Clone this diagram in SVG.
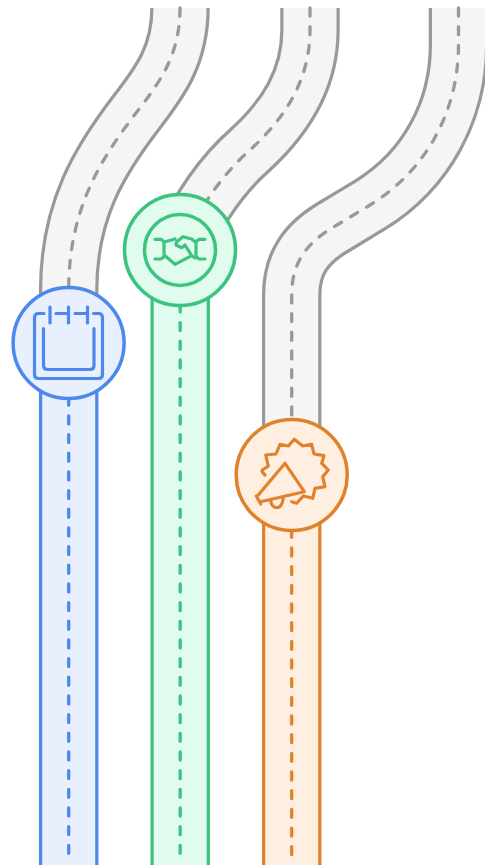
<svg xmlns="http://www.w3.org/2000/svg" width="485" height="865" viewBox="0 0 485 865">
<style>
.edge,.bed,.dash,.ic{fill:none}
.edge{stroke-width:59.5}
.bed{stroke-width:53}
.dash{stroke-width:3.3;stroke-linecap:round;stroke-dasharray:8 10.67}
.ic{stroke-width:3.2;stroke-linecap:round;stroke-linejoin:round}
.grey .edge{stroke:#999}.grey .bed{stroke:#f5f5f5}.grey .dash{stroke:#999}
.blue .edge,.blue .dash,.blue .ic,.blue circle{stroke:#4d88ec}.blue .bed,.blue circle{fill:#e8effd}.blue .bed{stroke:#e8effd}
.green .edge,.green .dash,.green .ic,.green circle{stroke:#3cc380}.green circle{fill:#e0fcee}.green .bed{stroke:#e0fcee}
.orange .edge,.orange .dash,.orange .ic,.orange circle{stroke:#e0822c}.orange circle{fill:#ffefe0}.orange .bed{stroke:#ffefe0}
circle{stroke-width:3.5}
</style>
<defs>
<path id="r1" d="M180 8C180 55 160 82 136 113C100 160 68.7 210 68.7 290V343"/>
<path id="r2" d="M310 8V30C310 80 285 118 250 150C225 172 200 205 180 250"/>
<path id="r3" d="M458.5 8V45C458.5 110 427 170 370 205L337 225C307 242 291.7 262 291.7 295V475"/>
<path id="c1" d="M68.7 343V865"/>
<path id="c2" d="M180.2 250V865"/>
<path id="c3" d="M291.7 475V865"/>
</defs>
<g id="connectors">
<g class="grey">
<use href="#r1" class="edge"/><use href="#r1" class="bed"/><use href="#r1" class="dash"/>
<use href="#r2" class="edge"/><use href="#r2" class="bed"/><use href="#r2" class="dash"/>
<use href="#r3" class="edge"/><use href="#r3" class="bed"/><use href="#r3" class="dash"/>
</g>
<g class="blue"><use href="#c1" class="edge"/><use href="#c1" class="bed"/><path class="dash" d="M68.7 341.2V855"/></g>
<g class="green"><use href="#c2" class="edge"/><use href="#c2" class="bed"/><path class="dash" d="M180.2 247.9V855"/></g>
<g class="orange"><use href="#c3" class="edge"/><use href="#c3" class="bed"/><path class="dash" d="M291.7 473.3V855"/></g>
</g>
<g id="node-calendar" class="blue">
<circle cx="68.6" cy="343" r="55.5"/>
<path class="ic" d="M44 313.5H38.5Q34.5 313.5 34.5 317.5V374.5Q34.5 378.5 38.5 378.5H98.5Q102.5 378.5 102.5 374.5V317.5Q102.5 313.5 98.5 313.5H93.5M56 313.5H68.5M75 313.5H87M50 307V323M68.5 307V323M87.5 307V323M43.5 328.5V365.5Q43.5 369.5 47.5 369.5H90Q94 369.5 94 365.5V328.5"/>
</g>
<g id="node-handshake" class="green">
<circle cx="180" cy="250" r="55.5"/>
<circle cx="180" cy="250" r="35.5"/>
<path class="ic" d="M155 239.3H161L164 241.7V256.7L161 259H155M205 239.3H199L196 241.7V256.7L199 259H205M165 241.7L175 239M176.5 242L183 236.7L191.7 239L195 241.7M165 255.7L175 264.3L191.7 255.7L195 258M176.5 242L176 245L181.7 247.7L185 245L191.7 255.7"/>
</g>
<g id="node-megaphone" class="orange">
<circle cx="291.7" cy="475" r="55.5"/>
<path class="ic" d="M265 475Q261 471 262.3 470L268.3 466L265.7 455L276 454L280 444.3L288.3 446L294.3 439.3L302.7 446L311.7 444.3L314 454L324 455.7L321.7 463.3L328.3 470L322.7 476.7L325 486.7L315 488.3L312.7 498.3L303.3 496L296.7 503.3L291.7 501.7M285 463.3L304.3 491.7L261.5 501.5M285 463.3L258.3 495M256.3 496L260.7 504M270.7 501Q272 507.7 276.7 507.7Q282 507.7 283.3 498.3"/>
</g>
</svg>
